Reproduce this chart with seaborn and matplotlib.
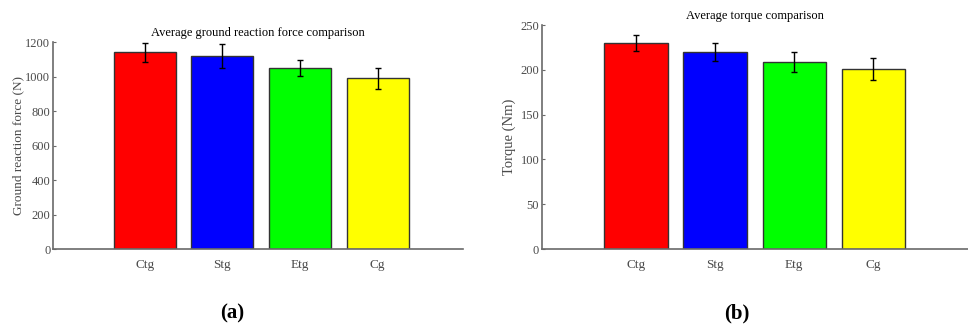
import matplotlib
matplotlib.use("Agg")
import matplotlib.pyplot as plt
import seaborn as sns
import pandas as pd

# Group labels and measured means / standard deviations
groups = ["Ctg", "Stg", "Etg", "Cg"]
grf_mean = [1140, 1119, 1047, 990]
grf_sd = [57, 72, 46, 60]
torque_mean = [230, 220, 209, 201]
torque_sd = [9, 10, 11, 12]
bar_colors = ["#ff0000", "#0000ff", "#00ff00", "#ffff00"]
grf_ticks = [0, 200, 400, 600, 800, 1000, 1200]
torque_ticks = [0, 50, 100, 150, 200, 250]

sns.set_theme(style="white")
plt.rcParams["font.family"] = ["Liberation Serif", "DejaVu Serif"]

fig = plt.figure(figsize=(9.68, 3.31), dpi=100)
ax_a = fig.add_axes([0.0548, 0.2477, 0.4236, 0.6254])
ax_b = fig.add_axes([0.5599, 0.2477, 0.4401, 0.6767])

axis_grey = "#6a6a6a"
text_grey = "#4a4a4a"


def draw_panel(ax, means, sds, ticks, title, ylabel, label_size, label_pad):
    df = pd.DataFrame({"group": groups, "value": means})
    sns.barplot(data=df, x="group", y="value", hue="group", palette=bar_colors,
                saturation=1, legend=False, errorbar=None, width=0.8, ax=ax,
                edgecolor="#333333", linewidth=1.0)
    ax.errorbar(range(len(groups)), means, yerr=sds, fmt="none",
                ecolor="black", elinewidth=1.0, capsize=2, capthick=1.0)
    ax.set_ylim(ticks[0], ticks[-1])
    ax.set_yticks(ticks)
    ax.set_xlim(-1.18, 4.1)
    ax.set_title(title, fontsize=9, pad=4, color="black")
    ax.set_xlabel("")
    ax.set_ylabel(ylabel, fontsize=label_size, color=text_grey, labelpad=label_pad)
    for side in ("top", "right"):
        ax.spines[side].set_visible(False)
    for side in ("left", "bottom"):
        ax.spines[side].set_color(axis_grey)
        ax.spines[side].set_linewidth(1.2)
    ax.tick_params(axis="y", direction="in", length=2.5, width=0.8,
                   colors=axis_grey, labelcolor=text_grey, labelsize=9, pad=2,
                   left=True)
    ax.tick_params(axis="x", length=0, labelcolor=text_grey, labelsize=9.5, pad=7)


draw_panel(ax_a, grf_mean, grf_sd, grf_ticks,
           "Average ground reaction force comparison", "Ground reaction force (N)",
           9.5, 1)
draw_panel(ax_b, torque_mean, torque_sd, torque_ticks,
           "Average torque comparison", "Torque (Nm)", 10.5, 3)
ax_b.set_xlim(-1.19, 4.2)

fig.text(232 / 968, 1 - 313 / 331, "(a)", ha="center", va="center",
         fontsize=15, fontweight="bold", color="black")
fig.text(737 / 968, 1 - 313 / 331, "(b)", ha="center", va="center",
         fontsize=15, fontweight="bold", color="black")

fig.savefig("out.png", dpi=100)
